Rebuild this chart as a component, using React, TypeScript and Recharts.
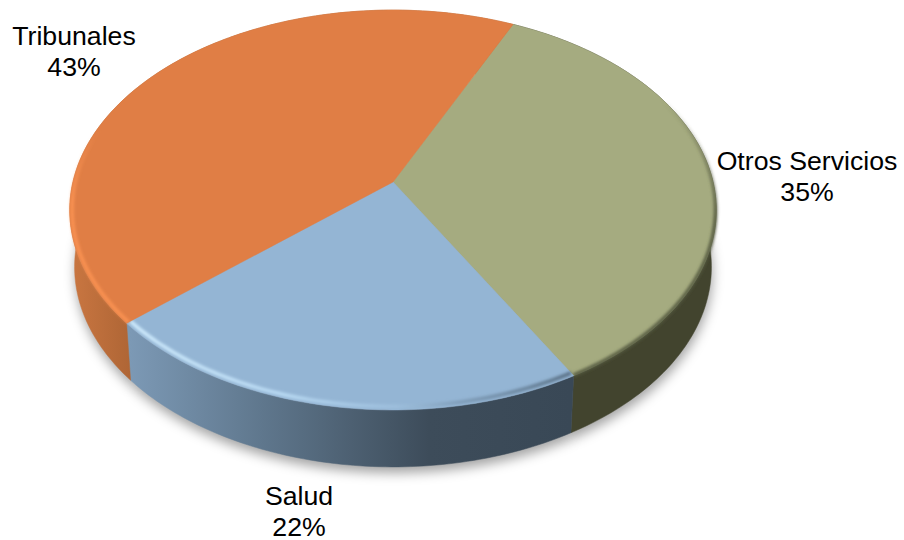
import React from "react";
import { PieChart, Pie } from "recharts";

const names = ["Otros Servicios", "Salud", "Tribunales"];
const values = [34.8, 21.9, 43.3];
const data = names.map((name, i) => ({ name, value: values[i] }));

const topColors: Record<string, string> = {
  "Otros Servicios": "#A5AB80",
  Salud: "#94B5D4",
  Tribunales: "#E07E45",
};
const sideFills: Record<string, string> = {
  "Otros Servicios": "#42442E",
  Salud: "url(#sideSalud)",
  Tribunales: "url(#sideTribunales)",
};
const rimStrokes: Record<string, string> = {
  "Otros Servicios": "url(#rimOtros)",
  Salud: "url(#rimSalud)",
  Tribunales: "url(#rimTribunales)",
};
const rimInset: Record<string, number> = {
  "Otros Servicios": 0.998,
  Salud: 0.987,
  Tribunales: 0.993,
};
const labelPos: Record<string, { x: number; y: number }> = {
  "Otros Servicios": { x: 807, y: 170 },
  Salud: { x: 299, y: 505 },
  Tribunales: { x: 74, y: 45 },
};

// the disc is tilted, so the circle from the pie goes through a small perspective
const WIDEN = 1.633;
const TILT = 0.14;
const DEPTH = 57;
const BOTTOM_SCALE = 0.985;

const RAD = Math.PI / 180;

const project = (angle: number, p: any, k = 1) => {
  const u = Math.cos(angle * RAD) * k;
  const v = -Math.sin(angle * RAD) * k;
  const w = 1 - TILT * v;
  return {
    x: p.cx + (p.outerRadius * WIDEN * u) / w,
    y: p.cy + (p.outerRadius * v) / w,
  };
};

const arcPoints = (p: any, k = 1) => {
  const pts = [];
  const steps = Math.ceil(Math.abs(p.endAngle - p.startAngle));
  for (let i = 0; i <= steps; i++) {
    const a = p.startAngle + ((p.endAngle - p.startAngle) * i) / steps;
    pts.push(project(a, p, k));
  }
  return pts;
};

const lowerRing = (pt: { x: number; y: number }, p: any) => ({
  x: p.cx + (pt.x - p.cx) * BOTTOM_SCALE,
  y: pt.y + DEPTH,
});

const toPath = (pts: { x: number; y: number }[]) =>
  pts.map((q, i) => `${i === 0 ? "M" : "L"}${q.x.toFixed(2)} ${q.y.toFixed(2)}`).join(" ");

const TopSlice = (props: any) => {
  const pts = arcPoints(props);
  const rim = arcPoints(props, rimInset[props.name]);
  return (
    <g>
      <path
        d={`M${props.cx} ${props.cy} ${toPath(pts).replace("M", "L")} Z`}
        fill={topColors[props.name]}
        stroke={topColors[props.name]}
        strokeWidth={0.5}
      />
      <path
        d={toPath(rim)}
        fill="none"
        stroke={rimStrokes[props.name]}
        strokeWidth={3.5}
        filter="url(#rimBlur)"
      />
    </g>
  );
};

const SideSlice = (props: any) => {
  const pts = arcPoints(props);
  const low = pts.map((q) => lowerRing(q, props)).reverse();
  return (
    <path
      d={`${toPath(pts)} ${toPath(low).replace("M", "L")} Z`}
      fill={sideFills[props.name]}
      stroke={sideFills[props.name]}
      strokeWidth={0.5}
    />
  );
};

const ShadowSlice = (props: any) => {
  const low = arcPoints(props).map((q) => lowerRing(q, props));
  return (
    <path
      d={`M${props.cx} ${props.cy + DEPTH} ${toPath(low).replace("M", "L")} Z`}
      fill="#000"
      fillOpacity={0.36}
      filter="url(#shadowBlur)"
      transform="translate(1 6)"
    />
  );
};

const SliceLabel = (props: any) => {
  const pos = labelPos[props.name];
  return (
    <text x={pos.x} y={pos.y} textAnchor="middle" fill="#000" fontFamily="Liberation Sans, Arial" fontSize={26.67}>
      <tspan x={pos.x}>{props.name}</tspan>
      <tspan x={pos.x} dy={31}>{`${Math.round(props.percent * 100)}%`}</tspan>
    </text>
  );
};

const pieProps = {
  data,
  dataKey: "value",
  nameKey: "name",
  cx: 393,
  cy: 182,
  outerRadius: 196,
  startAngle: 65,
  endAngle: -295,
  stroke: "none",
  isAnimationActive: false,
};

export default function App() {
  return (
    <div style={{ position: "absolute", left: 0, top: 0, width: 904, height: 540, background: "#fff" }}>
      <PieChart width={904} height={540} margin={{ top: 0, right: 0, bottom: 0, left: 0 }}>
        <defs>
          <filter id="shadowBlur" filterUnits="userSpaceOnUse" x="0" y="0" width="904" height="540">
            <feGaussianBlur stdDeviation="6" />
          </filter>
          <filter id="rimBlur" filterUnits="userSpaceOnUse" x="0" y="0" width="904" height="540">
            <feGaussianBlur stdDeviation="1.6" />
          </filter>
          <linearGradient id="sideSalud" gradientUnits="userSpaceOnUse" x1="130" y1="0" x2="570" y2="0">
            <stop offset="0" stopColor="#7C99B5" />
            <stop offset="0.3" stopColor="#5F778D" />
            <stop offset="0.68" stopColor="#3D4C5A" />
            <stop offset="1" stopColor="#394856" />
          </linearGradient>
          <linearGradient id="sideTribunales" gradientUnits="userSpaceOnUse" x1="72" y1="0" x2="132" y2="0">
            <stop offset="0" stopColor="#C97641" />
            <stop offset="1" stopColor="#AE6535" />
          </linearGradient>
          <linearGradient id="rimTribunales" gradientUnits="userSpaceOnUse" x1="0" y1="130" x2="0" y2="200">
            <stop offset="0" stopColor="#FF9654" stopOpacity="0" />
            <stop offset="1" stopColor="#FF9654" stopOpacity="0.85" />
          </linearGradient>
          <linearGradient id="rimSalud" gradientUnits="userSpaceOnUse" x1="130" y1="0" x2="570" y2="0">
            <stop offset="0" stopColor="#D2EEFF" />
            <stop offset="0.35" stopColor="#BFE0F8" stopOpacity="0.9" />
            <stop offset="0.6" stopColor="#A9CBE8" stopOpacity="0.5" />
            <stop offset="0.75" stopColor="#6F8AA3" stopOpacity="0.6" />
            <stop offset="1" stopColor="#4E6477" stopOpacity="0.9" />
          </linearGradient>
          <linearGradient id="rimOtros" gradientUnits="userSpaceOnUse" x1="0" y1="100" x2="0" y2="220">
            <stop offset="0" stopColor="#555A3F" stopOpacity="0" />
            <stop offset="1" stopColor="#555A3F" stopOpacity="1" />
          </linearGradient>
        </defs>
        <Pie {...pieProps} shape={ShadowSlice} />
        <Pie {...pieProps} shape={SideSlice} />
        <Pie {...pieProps} shape={TopSlice} label={SliceLabel} labelLine={false} />
      </PieChart>
    </div>
  );
}
